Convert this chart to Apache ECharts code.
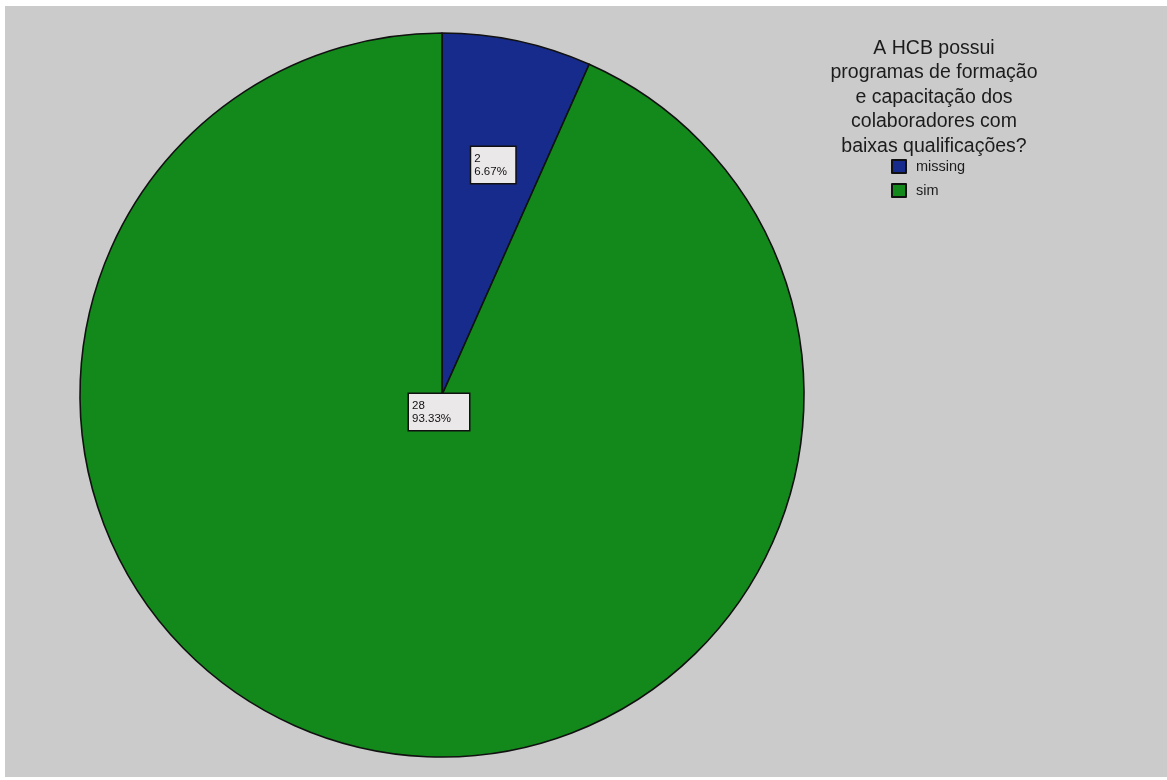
<!DOCTYPE html>
<html>
<head>
<meta charset="utf-8">
<script src="https://cdn.jsdelivr.net/npm/echarts@6/dist/echarts.min.js"></script>
<style>
  html, body { margin: 0; padding: 0; background: #ffffff; width: 1167px; height: 780px; overflow: hidden; }
  #chart { position: absolute; left: 5px; top: 6px; width: 1162px; height: 771px; }
</style>
</head>
<body>
<div id="chart"></div>
<script>
// Responses to the survey question
const categories = ['missing', 'sim'];
const counts = [2, 28];
const sliceColors = ['#162b8c', '#13891c'];
const legendTitle = 'A HCB possui\nprogramas de formação\ne capacitação dos\ncolaboradores com\nbaixas qualificações?';

const FONT = '"Liberation Sans", Arial, sans-serif';

// Per-slice label placement: the small slice keeps its label inside,
// the large slice's label sits just below the pie centre.
const labelPlacement = [
  { position: 'inside', offset: [13, -50], boxWidth: 36 },
  { position: 'center', offset: [-3, 17], boxWidth: 52 }
];

const data = categories.map((name, i) => ({
  name: name,
  value: counts[i],
  itemStyle: { color: sliceColors[i] },
  label: {
    position: labelPlacement[i].position,
    offset: labelPlacement[i].offset,
    rich: { t: { width: labelPlacement[i].boxWidth, align: 'left' } }
  }
}));

const chart = echarts.init(document.getElementById('chart'), null, { renderer: 'canvas' });

chart.setOption({
  backgroundColor: '#cbcbcb',
  animation: false,
  title: {
    text: legendTitle,
    left: 924,
    top: 25,
    textAlign: 'center',
    textStyle: {
      fontFamily: FONT,
      fontSize: 19.5,
      fontWeight: 'normal',
      color: '#1c1c1c',
      lineHeight: 24.5,
      align: 'center'
    }
  },
  legend: {
    orient: 'vertical',
    left: 881,
    top: 148,
    icon: 'rect',
    itemWidth: 14,
    itemHeight: 13,
    itemGap: 9,
    data: categories,
    textStyle: { fontFamily: FONT, fontSize: 14.5, color: '#1c1c1c', padding: [0, 0, 0, 5] }
  },
  series: [{
    type: 'pie',
    center: [437, 389],
    radius: [0, 362],
    startAngle: 90,
    clockwise: true,
    avoidLabelOverlap: false,
    itemStyle: { borderColor: '#111111', borderWidth: 1.6 },
    label: {
      show: true,
      formatter: '{t|{c}}\n{t|{d}%}',
      fontFamily: FONT,
      fontSize: 11.5,
      lineHeight: 13,
      color: '#111111',
      backgroundColor: '#ebe8ea',
      borderColor: '#111111',
      borderWidth: 1.5,
      padding: [5, 5, 5, 3]
    },
    labelLine: { show: false },
    emphasis: { disabled: true },
    data: data
  }]
});
</script>
</body>
</html>
